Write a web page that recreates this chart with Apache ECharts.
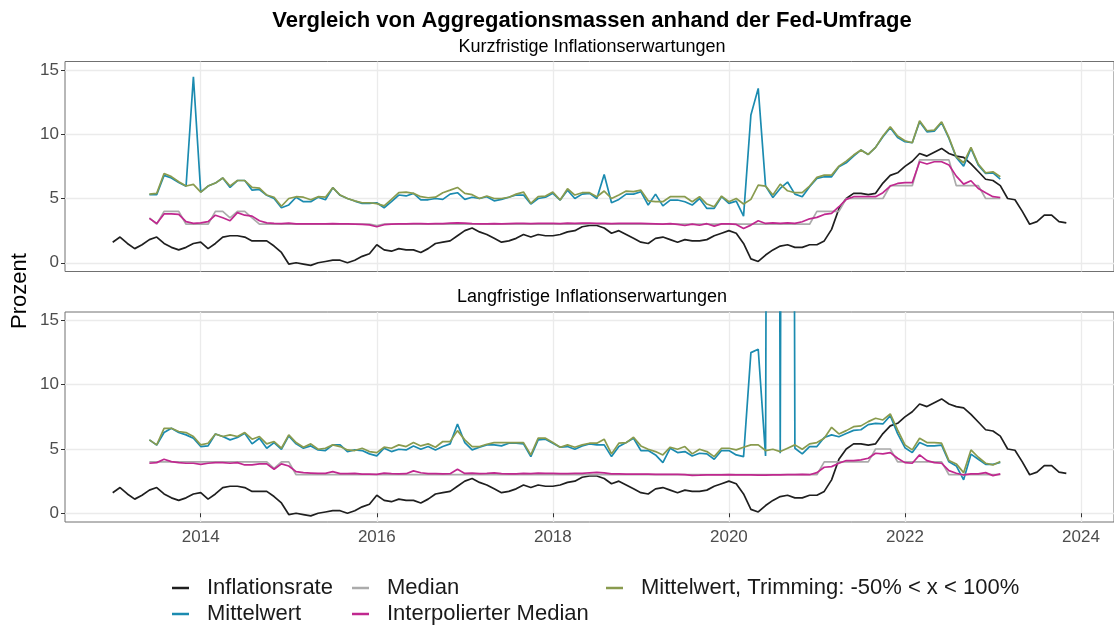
<!DOCTYPE html>
<html><head><meta charset="utf-8">
<script src="https://cdn.jsdelivr.net/npm/echarts@6/dist/echarts.min.js"></script>
<style>html,body{margin:0;padding:0;background:#fff}#c{width:1114px;height:628px}</style>
</head><body><div id="c"></div><script>
// ---------- DATA ----------
const inflationStart = [2013, 1];   // year, month of first inflation value
const surveyStart = [2013, 6];      // year, month of first survey value
const yearTicks = [2014, 2016, 2018, 2020, 2022, 2024];
const valueTicks = [0, 5, 10, 15];
const seriesNames = ['Inflationsrate', 'Mittelwert', 'Median', 'Interpolierter Median', 'Mittelwert, Trimming: -50% < x < 100%'];
const panelTitles = ['Kurzfristige Inflationserwartungen', 'Langfristige Inflationserwartungen'];

const inflation = [
 1.6,2.0,1.5,1.1,1.4,1.8,2.0,1.5,1.2,1.0,1.2,1.5,
 1.6,1.1,1.5,2.0,2.1,2.1,2.0,1.7,1.7,1.7,1.3,0.8,
 -0.1,0.0,-0.1,-0.2,0.0,0.1,0.2,0.2,0.0,0.2,0.5,0.7,
 1.4,1.0,0.9,1.1,1.0,1.0,0.8,1.1,1.5,1.6,1.7,2.1,
 2.5,2.7,2.4,2.2,1.9,1.6,1.7,1.9,2.2,2.0,2.2,2.1,
 2.1,2.2,2.4,2.5,2.8,2.9,2.9,2.7,2.3,2.5,2.2,1.9,
 1.6,1.5,1.9,2.0,1.8,1.6,1.8,1.7,1.7,1.8,2.1,2.3,
 2.5,2.3,1.5,0.3,0.1,0.6,1.0,1.3,1.4,1.2,1.2,1.4,
 1.4,1.7,2.6,4.2,5.0,5.4,5.4,5.3,5.4,6.2,6.8,7.0,
 7.5,7.9,8.5,8.3,8.6,8.9,8.5,8.3,8.2,7.7,7.1,6.5,
 6.4,6.0,5.0,4.9,4.0,3.0,3.2,3.7,3.7,3.2,3.1
];

// short-term expectations
const shortMean = [
 5.3,5.3,6.8,6.6,6.25,5.95,14.47,
 5.5,5.97,6.2,6.6,5.86,6.4,6.4,5.65,5.7,5.25,5.0,4.28,
 4.5,5.1,4.75,4.75,5.1,4.9,5.84,5.25,5.0,4.8,4.62,4.62,
 4.67,4.28,4.75,5.27,5.2,5.4,4.9,4.9,5.0,4.93,5.34,5.45,
 4.93,5.1,5.0,5.14,4.82,4.93,5.1,5.27,5.27,4.57,5.0,5.1,
 5.4,4.88,5.65,5.0,5.34,5.4,5.0,6.87,4.67,4.93,5.34,5.34,
 5.53,4.49,5.34,4.43,4.88,4.88,4.75,4.49,5.0,4.23,4.23,5.14,
 4.62,4.8,3.63,11.5,13.57,5.97,5.08,5.78,6.28,5.34,5.14,5.91,
 6.56,6.69,6.69,7.47,7.78,8.3,8.77,8.43,8.98,9.8,10.5,9.75,
 9.42,9.34,10.97,10.19,10.24,10.9,9.67,8.2,7.52,8.9,7.6,6.95,
 7.0,6.51
];
const shortMedian = [
 3.5,3,4,4,4,3,3,
 3,3,4,4,3.5,4,4,3.5,3,3,3,3,
 3,3,3,3,3,3,3,3,3,3,3,3,
 2.9,3,3,3,3,3,3,3,3,3,3,3,
 3,3,3,3,3,3,3,3,3,3,3,3,
 3,3,3,3,3,3,3,3,3,3,3,3,
 3,3,3,3,3,3,3,3,3,3,3,3,
 3,3,3,3,3,3,3,3,3,3,3,3,
 4,4,4,4,5,5,5,5,5,5,6,6,
 6,6,8,8,8,8,8,6,6,6,6,5,
 5,5
];
const shortInterp = [
 3.45,3.06,3.8,3.8,3.76,3.2,3.06,
 3.1,3.2,3.7,3.5,3.27,3.9,3.7,3.63,3.27,3.1,3.06,3.05,
 3.08,3.02,3.03,3.02,3.03,3.03,3.05,3.03,3.02,3.0,2.98,2.95,
 2.8,2.96,3.0,3.02,3.03,3.04,3.04,3.03,3.05,3.05,3.08,3.1,
 3.08,3.05,3.03,3.03,3.04,3.03,3.05,3.07,3.06,3.05,3.06,3.07,
 3.06,3.05,3.08,3.07,3.08,3.08,3.06,3.07,3.05,3.06,3.06,3.07,
 3.06,3.05,3.03,3.0,3.04,2.98,2.9,3.0,2.92,3.04,2.85,3.03,
 3.02,2.98,2.67,2.93,3.27,3.06,3.11,3.06,3.11,3.06,3.19,3.42,
 3.53,3.76,3.84,4.36,4.93,5.14,5.14,5.14,5.14,5.45,5.97,6.17,
 6.23,6.23,7.86,7.68,7.86,7.86,7.6,6.74,6.12,6.38,5.78,5.45,
 5.14,5.08
];
const shortTrim = [
 5.34,5.4,6.95,6.7,6.3,5.97,6.1,
 5.5,5.97,6.2,6.6,5.97,6.4,6.4,5.86,5.8,5.27,5.1,4.4,
 5.0,5.14,5.1,4.9,5.14,5.1,5.84,5.27,5.0,4.82,4.67,4.67,
 4.6,4.43,4.93,5.45,5.5,5.4,5.14,5.06,5.1,5.45,5.65,5.86,
 5.4,5.3,5.0,5.19,5.0,5.0,5.1,5.34,5.5,4.62,5.14,5.19,
 5.5,4.88,5.76,5.27,5.45,5.45,5.14,5.58,5.0,5.27,5.58,5.53,
 5.65,4.82,4.75,4.75,5.14,5.14,5.14,4.75,5.14,4.57,4.36,5.19,
 4.75,5.0,4.57,4.93,6.04,5.97,5.27,6.12,5.6,5.45,5.45,5.97,
 6.64,6.82,6.82,7.52,7.91,8.38,8.77,8.43,8.98,9.86,10.58,9.86,
 9.49,9.34,11.05,10.27,10.32,10.97,9.75,8.25,7.78,8.98,7.68,7.0,
 7.08,6.69
];

// long-term expectations (the two 2020 outliers run far above the visible range)
const longMean = [
 5.71,5.3,6.28,6.61,6.28,6.1,5.84,
 5.19,5.24,6.17,5.97,5.71,5.89,6.23,5.4,5.84,5.06,5.5,4.98,
 6.02,5.4,5.06,5.24,4.93,4.88,5.32,5.32,4.8,4.93,4.88,4.62,
 4.46,5.06,4.8,4.98,4.93,5.24,4.98,5.19,4.93,5.19,5.4,6.95,
 5.5,4.93,5.14,5.32,5.32,5.24,5.45,5.45,5.4,4.41,5.71,5.76,
 5.45,5.14,5.19,4.98,5.24,5.4,5.32,5.32,4.41,5.19,5.5,5.84,
 4.88,4.88,4.54,3.94,5.06,4.72,4.8,4.46,4.67,4.62,4.2,4.88,
 4.88,4.54,4.41,12.5,12.76,4.46,200,4.67,200,5.06,4.62,5.19,
 5.19,5.9,6.1,5.95,6.2,6.45,6.5,6.9,7.0,6.95,7.6,6.2,
 5.1,4.72,5.5,5.25,5.25,5.3,4.0,3.68,2.6,4.6,4.2,3.8,
 3.8,3.95
];
const longMedian = [
 4,4,4,4,4,4,4,
 4,4,4,4,4,4,4,4,4,4,3.5,4,
 4,3,3,3,3,3,3,3,3,3,3,3,
 3,3,3,3,3,3,3,3,3,3,3,3,
 3,3,3,3,3,3,3,3,3,3,3,3,
 3,3,3,3,3,3,3,3,3,3,3,3,
 3,3,3,3,3,3,3,3,3,3,3,3,
 3,3,3,3,3,3,3,3,3,3,3,3,
 3,4,4,4,4,4,4,4,5,5,5,4,
 4,4,4,4,4,4,3,3,3,3,3,3,
 3,3
];
const longInterp = [
 3.89,3.94,4.2,4.02,3.94,3.89,3.89,
 3.81,3.89,3.94,3.94,3.89,3.94,3.76,3.76,3.84,3.84,3.42,3.84,
 3.68,3.24,3.16,3.13,3.1,3.1,3.24,3.08,3.08,3.1,3.05,3.05,
 3.03,3.12,3.08,3.06,3.08,3.3,3.15,3.08,3.08,3.06,3.08,3.42,
 3.1,3.12,3.08,3.1,3.14,3.08,3.06,3.06,3.1,3.08,3.12,3.1,
 3.1,3.08,3.09,3.1,3.1,3.15,3.18,3.14,3.06,3.06,3.05,3.05,
 3.04,3.04,3.03,3.03,3.03,3.02,3.01,2.95,2.96,2.98,2.98,2.98,
 3.0,2.98,2.98,2.98,2.96,2.96,2.98,2.98,3.0,3.0,3.02,3.0,
 3.16,3.58,3.63,3.89,4.1,4.1,4.15,4.28,4.67,4.62,4.72,4.28,
 3.94,3.89,4.54,4.1,3.94,3.89,3.32,3.11,2.98,3.06,3.06,3.16,
 2.93,3.06
];
const longTrim = [
 5.71,5.32,6.61,6.61,6.36,6.28,5.97,
 5.32,5.45,6.17,5.97,6.1,5.97,6.28,5.76,5.97,5.4,5.58,5.06,
 6.1,5.5,5.14,5.4,4.98,5.06,5.32,5.19,4.93,4.88,5.06,4.8,
 4.72,5.14,5.06,5.32,5.19,5.5,5.24,5.4,5.14,5.58,5.58,6.43,
 5.71,5.19,5.19,5.37,5.5,5.5,5.5,5.5,5.5,4.54,5.84,5.84,
 5.5,5.14,5.32,5.14,5.32,5.45,5.45,5.76,4.62,5.45,5.5,5.91,
 5.24,4.98,4.8,4.54,5.14,4.98,5.19,4.62,4.98,4.8,4.41,5.06,
 5.06,4.93,5.14,5.32,5.32,4.88,4.98,4.8,5.06,5.32,4.98,5.4,
 5.5,5.84,6.69,6.17,6.43,6.74,6.8,7.13,7.39,7.26,7.73,6.49,
 5.32,4.93,5.84,5.5,5.5,5.45,4.1,3.84,3.16,4.93,4.36,3.89,
 3.76,4.02
];

// ---------- CHART ----------
const FONT = '"Liberation Sans", Arial, Helvetica, sans-serif';
const colors = ['#1f1f1f', '#1b8bb0', '#ababab', '#c0288f', '#899b4e'];
const X_MIN = 2012.458, X_MAX = 2024.375, Y_MIN = -0.68, Y_MAX = 15.66;

function toPairs(values, start) {
  return values.map((v, i) => [start[0] + (start[1] - 1 + i) / 12, v]);
}
function lineSeries(k, values, start, g) {
  return {
    name: seriesNames[k], type: 'line', xAxisIndex: g, yAxisIndex: g,
    data: toPairs(values, start), symbol: 'none', showSymbol: false,
    clip: true, silent: true, z: 2 + k,
    lineStyle: { color: colors[k], width: 1.7 }, itemStyle: { color: colors[k] }
  };
}
const panels = [
  [inflation, shortMean, shortMedian, shortInterp, shortTrim],
  [inflation, longMean, longMedian, longInterp, longTrim]
];
const series = [];
panels.forEach((p, g) => p.forEach((vals, k) => series.push(lineSeries(k, vals, k === 0 ? inflationStart : surveyStart, g))));

const gridTops = [61.5, 312];
const grid = gridTops.map(t => ({ left: 65, top: t, width: 1054, height: 210, show: true, borderColor: '#707070', borderWidth: 1, backgroundColor: 'transparent' }));

const xAxis = [0, 1].map(g => ({
  type: 'value', gridIndex: g, min: X_MIN, max: X_MAX,
  axisLine: { show: false },
  axisTick: { show: g === 1, length: 4, lineStyle: { color: '#333' }, customValues: yearTicks },
  axisLabel: { show: g === 1, customValues: yearTicks, margin: 7, fontFamily: FONT, fontSize: 17, color: '#4d4d4d', formatter: v => String(v) },
  splitLine: { show: true, lineStyle: { color: '#ebebeb', width: 1.3 } }
}));
const yAxis = [0, 1].map(g => ({
  type: 'value', gridIndex: g, min: Y_MIN, max: Y_MAX,
  axisLine: { show: false },
  axisTick: { show: true, length: 4, lineStyle: { color: '#333' }, customValues: valueTicks },
  axisLabel: { customValues: valueTicks, margin: 6, fontFamily: FONT, fontSize: 17, color: '#4d4d4d', formatter: v => String(v) },
  splitLine: { show: true, lineStyle: { color: '#ebebeb', width: 1.3 } }
}));

const legendPos = [
  { k: 0, left: 172, top: 575 },
  { k: 1, left: 172, top: 601 },
  { k: 2, left: 352, top: 575 },
  { k: 3, left: 352, top: 601 },
  { k: 4, left: 606, top: 575 }
];
const legend = legendPos.map(p => ({
  data: [seriesNames[p.k]], left: p.left, top: p.top, orient: 'horizontal',
  icon: 'rect', itemWidth: 17, itemHeight: 2.5, itemGap: 0, padding: 0, selectedMode: false,
  textStyle: { fontFamily: FONT, fontSize: 22, color: '#1a1a1a', padding: [0, 0, 0, 13], lineHeight: 26 }
}));

function txt(text, x, y, size, weight, rot) {
  return { type: 'text', x: x, y: y, rotation: rot || 0, silent: true,
    style: { text: text, font: weight + ' ' + size + 'px ' + FONT, fill: '#000',
      align: 'center', verticalAlign: 'middle', textAlign: 'center', textVerticalAlign: 'middle' } };
}
const graphic = [
  txt('Vergleich von Aggregationsmassen anhand der Fed-Umfrage', 592, 21, 22, 'bold'),
  txt(panelTitles[0], 592, 47, 18, 'normal'),
  txt(panelTitles[1], 592, 297, 18, 'normal'),
  txt('Prozent', 20, 291, 22, 'normal', Math.PI / 2)
];

const chart = echarts.init(document.getElementById('c'), null, { renderer: 'canvas' });
chart.setOption({
  animation: false, backgroundColor: '#ffffff',
  grid, xAxis, yAxis, legend, graphic, series
});
</script></body></html>
